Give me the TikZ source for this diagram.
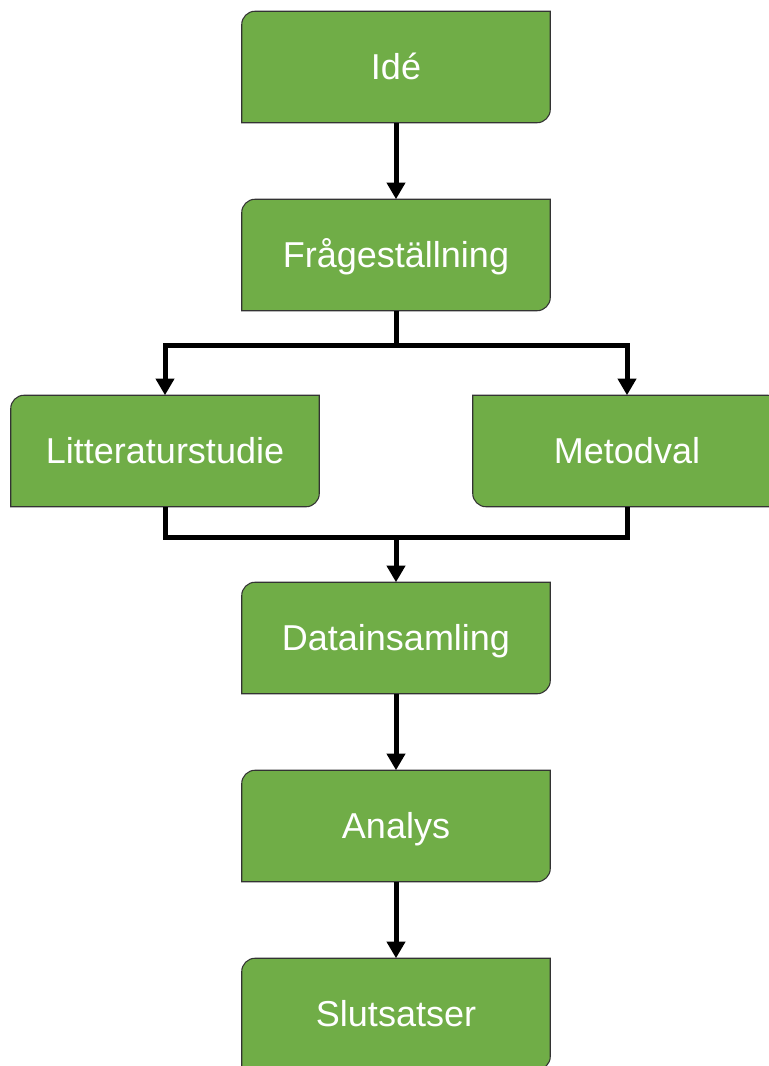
\documentclass[tikz,border=0pt]{standalone}
\usepackage{fontspec}
\setmainfont{Liberation Sans}
\usetikzlibrary{arrows.meta,backgrounds}
\definecolor{boxgreen}{HTML}{70AD47}
\definecolor{boxborder}{HTML}{333333}
\tikzset{
  boxnode/.style={rectangle, inner sep=0pt, minimum width=231pt, minimum height=83.25pt,
    text=white, font=\fontsize{27}{32}\selectfont, text height=24.4pt, text depth=5.7pt},
  boxshape/.style={fill=boxgreen, draw=boxborder, line width=0.8pt},
  conn/.style={line width=3.75pt, draw=black},
  arr/.style={conn, -{Triangle[width=13.5pt,length=12.5pt]}},
}
\def\crad{10pt}
\def\cctl{4.5pt}
% box with rounded top-left and bottom-right corners
\newcommand{\gboxA}[4]{%
  \node[boxnode] (#1) at (#2,#3) {#4};
  \begin{scope}[on background layer]
  \path[boxshape] ([xshift=\crad]#1.north west) -- (#1.north east)
    -- ([yshift=\crad]#1.south east)
    .. controls ([yshift=\cctl]#1.south east) and ([xshift=-\cctl]#1.south east) .. ([xshift=-\crad]#1.south east)
    -- (#1.south west) -- ([yshift=-\crad]#1.north west)
    .. controls ([yshift=-\cctl]#1.north west) and ([xshift=\cctl]#1.north west) .. ([xshift=\crad]#1.north west) -- cycle;
  \end{scope}}
% box with rounded top-right and bottom-left corners
\newcommand{\gboxB}[4]{%
  \node[boxnode] (#1) at (#2,#3) {#4};
  \begin{scope}[on background layer]
  \path[boxshape] (#1.north west) -- ([xshift=-\crad]#1.north east)
    .. controls ([xshift=-\cctl]#1.north east) and ([yshift=-\cctl]#1.north east) .. ([yshift=-\crad]#1.north east)
    -- (#1.south east) -- ([xshift=\crad]#1.south west)
    .. controls ([xshift=\cctl]#1.south west) and ([yshift=\cctl]#1.south west) .. ([yshift=\crad]#1.south west)
    -- cycle;
  \end{scope}}
\begin{document}
\begin{tikzpicture}[x=0.75pt,y=-0.75pt]
\path[use as bounding box] (0,0) rectangle (768,1066);
\clip (0,0) rectangle (768,1066);
\gboxA{ide}{396}{67}{Idé}
\gboxA{fraga}{396}{255}{Frågeställning}
\gboxA{litt}{165}{451}{Litteraturstudie}
\gboxB{metod}{627}{451}{Metodval}
\gboxA{data}{396}{638}{Datainsamling}
\gboxA{analys}{396}{826}{Analys}
\gboxA{slut}{396}{1014}{Slutsatser}
\coordinate (split) at (396,345);
\coordinate (join) at (396,537);
\draw[arr] (ide.south) -- (fraga.north);
\draw[conn] (fraga.south) -- (split);
\draw[arr] (split) -| (litt.north);
\draw[arr] (split) -| (metod.north);
\draw[conn] (litt.south) |- (join);
\draw[conn] (metod.south) |- (join);
\draw[arr] (join) -- (data.north);
\draw[arr] (data.south) -- (analys.north);
\draw[arr] (analys.south) -- (slut.north);
\end{tikzpicture}
\end{document}
